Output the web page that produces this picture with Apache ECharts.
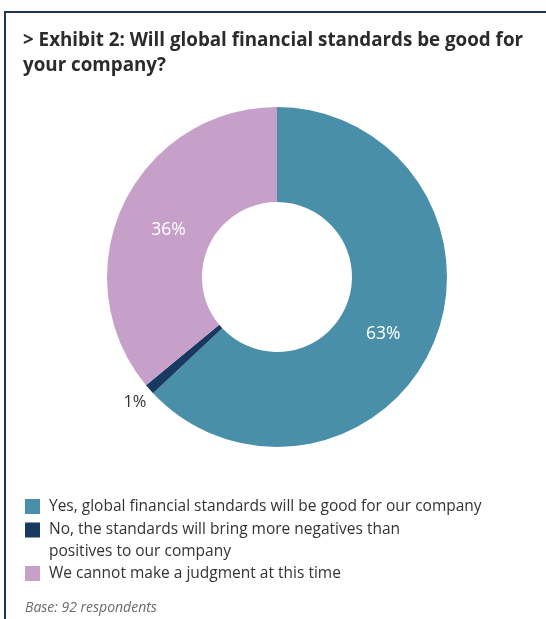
<!DOCTYPE html>
<html>
<head>
<meta charset="utf-8">
<script src="https://cdn.jsdelivr.net/npm/echarts@6/dist/echarts.min.js"></script>
<style>
  html, body { margin: 0; padding: 0; background: #fff; }
  #chart { width: 546px; height: 619px; }
</style>
</head>
<body>
<div id="chart"></div>
<script>
// Survey answers and shares (percent)
const categories = [
  'Yes, global financial standards will be good for our company',
  'No, the standards will bring more negatives than\npositives to our company',
  'We cannot make a judgment at this time'
];
const shares = [63, 1, 36];
const sliceColors = ['#4a8fa9', '#193a60', '#c6a0c9'];
const titleText = '> Exhibit 2: Will global financial standards be good for\nyour company?';
const baseNote = 'Base: 92 respondents';

const FONT = '"Open Sans", "Noto Sans", sans-serif';

// small nudges of the value labels, per slice
const labelNudge = [[-9, 7], [11, 5], [5, 6]];

// Legend text as rich fragments; a wrapped name gets a blank leading line so
// the swatch lines up with its first line of text.
function legendText(name) {
  const lines = name.split('\n');
  const out = lines.map(l => '{t|' + l + '}');
  if (lines.length > 1) out.unshift('{t| }');
  return out.join('\n');
}

// one legend block per answer
const legendTops = [495.5, 497, 562.5];
const legends = categories.map((name, i) => ({
  orient: 'vertical',
  left: 25,
  top: legendTops[i],
  padding: 0,
  itemWidth: 15,
  itemHeight: 15,
  icon: 'rect',
  selectedMode: false,
  data: [name],
  formatter: legendText,
  textStyle: {
    fontFamily: FONT,
    fontSize: 15.5,
    color: '#333333',
    lineHeight: 22,
    rich: {
      t: {
        fontFamily: FONT,
        fontSize: 15.5,
        color: '#333333',
        lineHeight: 22,
        padding: [0, 0, 0, 4]
      }
    }
  }
}));

const chart = echarts.init(document.getElementById('chart'), null, { renderer: 'canvas' });

chart.setOption({
  animation: false,
  backgroundColor: '#ffffff',
  title: {
    text: titleText,
    left: 23,
    top: 28.5,
    padding: 0,
    textStyle: {
      fontFamily: FONT,
      fontSize: 18.8,
      fontWeight: 'bold',
      color: '#2b2b2b',
      lineHeight: 25
    }
  },
  legend: legends,
  graphic: [
    // frame: top rule and left rule
    { type: 'rect', shape: { x: 4, y: 11, width: 542, height: 2 }, style: { fill: '#1d3557' } },
    { type: 'rect', shape: { x: 4, y: 11, width: 2, height: 608 }, style: { fill: '#1d3557' } },
    {
      type: 'text', left: 25, top: 601,
      style: { text: baseNote, font: 'italic 14px ' + FONT, fill: '#6b6b6b' }
    }
  ],
  series: [{
    type: 'pie',
    center: [277, 277],
    radius: [75, 170],
    startAngle: 90,
    clockwise: true,
    avoidLabelOverlap: false,
    silent: true,
    label: {
      show: true,
      position: 'inside',
      formatter: '{c}%',
      fontFamily: FONT,
      fontSize: 17.5,
      color: '#ffffff'
    },
    labelLine: { show: false },
    labelLayout: function (params) {
      const n = labelNudge[params.dataIndex];
      return { dx: n[0], dy: n[1] };
    },
    data: categories.map((name, i) => {
      const item = { name: name, value: shares[i], itemStyle: { color: sliceColors[i] } };
      if (shares[i] < 5) {
        item.label = { position: 'outside', color: '#333333', fontSize: 16.5 };
        item.labelLine = { show: false, length: 12, length2: 0 };
      }
      return item;
    })
  }]
});
</script>
</body>
</html>
